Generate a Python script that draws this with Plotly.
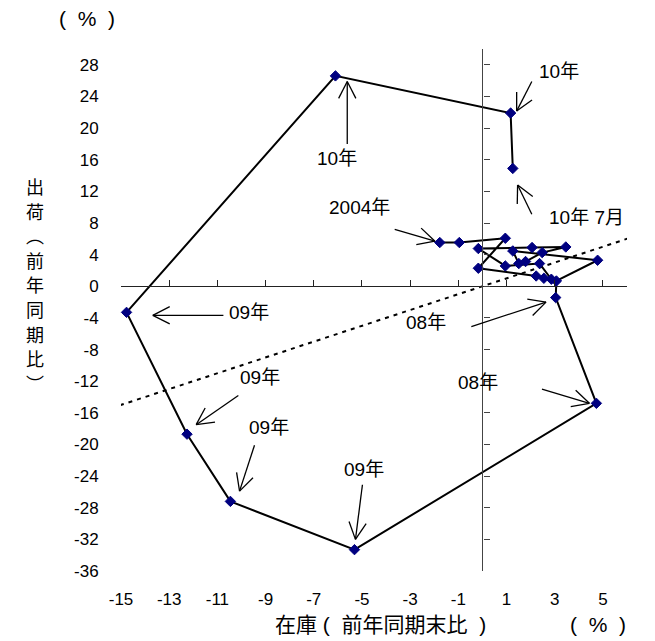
import math
import plotly.graph_objects as go

# inventory (x, % YoY end-of-period) and shipments (y, % YoY), 2004 -> 2010 July
inventory = [-1.77, -0.96, 0.95, -0.17, 2.23, 2.55, 2.86, 2.37,
             0.95, -0.17, 2.06, 3.46, 2.48, 1.79, 1.51, 1.26,
             4.78, 3.07,
             3.04, 4.73, -5.31, -10.46, -12.26, -14.77, -6.10, 1.17, 1.26]
shipments = [5.53, 5.53, 6.07, 2.28, 1.30, 1.01, 0.89, 2.87,
             2.57, 4.77, 4.90, 4.97, 4.26, 3.13, 2.87, 4.47,
             3.29, 0.67,
             -1.43, -14.8, -33.3, -27.2, -18.7, -3.3, 26.6, 21.9, 14.9]

x_ticks = [-15, -13, -11, -9, -7, -5, -3, -1, 1, 3, 5]
y_ticks = [-36, -32, -28, -24, -20, -16, -12, -8, -4, 0, 4, 8, 12, 16, 20, 24, 28]
x_range = [-15, 6]
y_range = [-36, 30]
diag = [-15.4, 6.2]

# labels: (text, label_x, label_y, arrow_tail_x, arrow_tail_y, arrow_head_x, arrow_head_y)
labels = [
    ("10年", -6.03, 16.1, -5.61, 18.0, -5.61, 25.9),
    ("10年", 3.18, 27.2, 2.05, 25.9, 1.42, 22.15),
    ("10年 7月", 4.3, 8.7, 2.05, 9.1, 1.46, 12.8),
    ("2004年", -5.1, 10.0, -3.64, 7.2, -1.97, 5.7),
    ("09年", -9.67, -3.3, -10.75, -3.67, -13.68, -3.67),
    ("09年", -9.25, -11.5, -10.13, -13.8, -11.88, -17.5),
    ("09年", -8.87, -17.8, -9.46, -20.1, -10.08, -25.9),
    ("09年", -4.9, -23.2, -4.98, -25.1, -5.27, -32.0),
    ("08年", -2.34, -4.6, -0.46, -5.1, 2.64, -2.0),
    ("08年", -0.17, -12.2, 2.47, -13.0, 4.44, -14.8),
]

y_title_chars = ["出", "荷", "︵", "前", "年", "同", "期", "比", "︶"]
NB = "\u00a0"
x_title = "在庫" + NB + "(" + NB + NB + "前年同期末比" + NB + NB + ")"
unit_text = "(" + NB + NB + "%" + NB + NB + ")"

FONT = "Liberation Sans, Arial, Noto Sans CJK JP"

# layout geometry (page has an 8px body margin)
W, H = 655, 641
ML, MR, MT, MB = 113, 36, 41, 78
plot_w = W - ML - MR
plot_h = H - MT - MB
sx = plot_w / (x_range[1] - x_range[0])
sy = plot_h / (y_range[1] - y_range[0])

fig = go.Figure()

fig.add_trace(go.Scatter(
    x=diag, y=diag, mode="lines",
    line=dict(color="black", width=2, dash="4px,5px"),
    cliponaxis=False, showlegend=False, hoverinfo="skip"))

fig.add_trace(go.Scatter(
    x=inventory, y=shipments, mode="lines+markers",
    line=dict(color="black", width=2),
    marker=dict(symbol="diamond", size=8, color="#000080",
                line=dict(color="#000080", width=1)),
    cliponaxis=False, showlegend=False))

shapes = []
ARM = 19.0
ANG = math.radians(27)
for text, lx, ly, tx, ty, hx, hy in labels:
    shapes.append(dict(type="line", xref="x", yref="y", x0=tx, y0=ty, x1=hx, y1=hy,
                       line=dict(color="black", width=1.3)))
    dxp = (hx - tx) * sx
    dyp = (hy - ty) * sy
    L = math.hypot(dxp, dyp)
    ux, uy = -dxp / L, -dyp / L
    for s in (1, -1):
        ca, sa = math.cos(s * ANG), math.sin(s * ANG)
        rx = ux * ca - uy * sa
        ry = ux * sa + uy * ca
        shapes.append(dict(type="line", xref="x", yref="y", x0=hx, y0=hy,
                           x1=hx + rx * ARM / sx, y1=hy + ry * ARM / sy,
                           line=dict(color="black", width=1.3)))
    fig.add_annotation(x=lx, y=ly, xref="x", yref="y", text=text,
                       showarrow=False, font=dict(size=19, color="black", family=FONT))

fig.update_layout(
    width=W, height=H,
    margin=dict(l=ML, r=MR, t=MT, b=MB),
    paper_bgcolor="white", plot_bgcolor="white",
    font=dict(family=FONT, size=17, color="black"),
    shapes=shapes,
    xaxis=dict(range=x_range, tickvals=x_ticks, ticktext=[str(v) for v in x_ticks],
               showgrid=False, zeroline=False, showline=False,
               ticks="outside", ticklen=13, tickcolor="rgba(0,0,0,0)"),
    yaxis=dict(range=y_range, tickvals=y_ticks, ticktext=[str(v) for v in y_ticks],
               showgrid=False, zeroline=False, showline=False,
               ticks="outside", ticklen=18, tickcolor="rgba(0,0,0,0)"),
    xaxis2=dict(range=x_range, tickvals=x_ticks, showticklabels=False,
                overlaying="x", anchor="free",
                position=(0 - y_range[0]) / (y_range[1] - y_range[0]),
                showline=True, linecolor="#222", linewidth=1.2,
                ticks="inside", ticklen=6, tickcolor="#222", tickwidth=1.2,
                showgrid=False, zeroline=False),
    yaxis2=dict(range=y_range, tickvals=y_ticks, showticklabels=False,
                overlaying="y", anchor="free",
                position=(0 - x_range[0]) / (x_range[1] - x_range[0]),
                showline=True, linecolor="#444", linewidth=1.2,
                ticks="inside", ticklen=6, tickcolor="#444", tickwidth=1.2,
                showgrid=False, zeroline=False),
)

# dummy trace to display the overlay axes
fig.add_trace(go.Scatter(x=[None], y=[None], xaxis="x2", yaxis="y2",
                         showlegend=False, hoverinfo="skip"))

# x-axis title and unit (below the tick labels)
fig.add_annotation(x=0.5, y=0, xref="paper", yref="paper", xanchor="center",
                   yanchor="middle", yshift=-53, xshift=6,
                   text=x_title, showarrow=False, font=dict(size=21, family=FONT))
fig.add_annotation(x=1, y=0, xref="paper", yref="paper", xanchor="center",
                   yanchor="middle", yshift=-53, xshift=-29,
                   text=unit_text, showarrow=False, font=dict(size=21, family=FONT))
# y-axis unit (top left)
fig.add_annotation(x=0, y=1, xref="paper", yref="paper", xanchor="center",
                   yanchor="middle", yshift=31, xshift=-34,
                   text=unit_text, showarrow=False, font=dict(size=21, family=FONT))
# vertical y-axis title, one character per row
for i, ch in enumerate(y_title_chars):
    fig.add_annotation(x=0, y=1, xref="paper", yref="paper", xanchor="center",
                       yanchor="middle", xshift=-86, yshift=-(139 + 24.6 * i),
                       text=ch, showarrow=False, font=dict(size=18, family=FONT))

fig.write_html("out.html")
